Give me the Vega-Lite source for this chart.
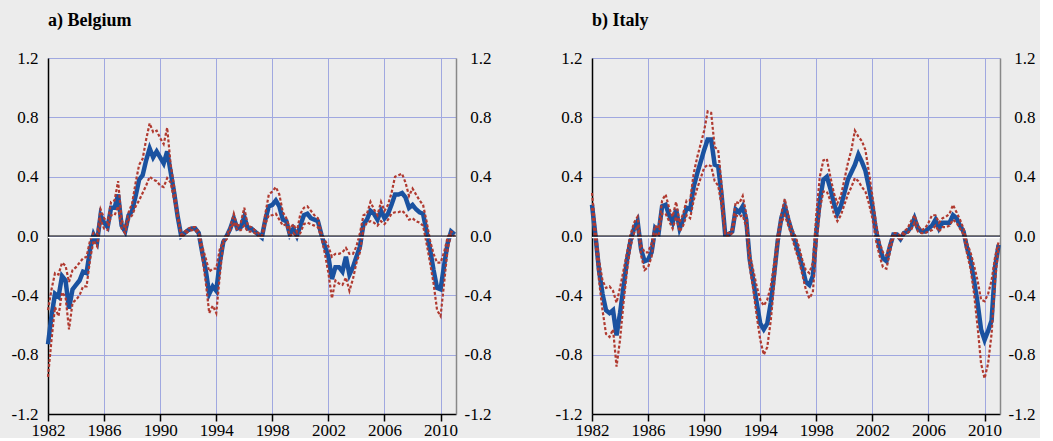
{
"$schema": "https://vega.github.io/schema/vega-lite/v6.json",
"background": "#ececec",
"padding": {"left": 0, "top": 12, "right": 0, "bottom": 0},
"spacing": 48,
"config": {
  "view": {"stroke": null},
  "font": "Times New Roman",
  "axis": {"labelFont": "Times New Roman", "labelFontSize": 17, "labelColor": "#000", "title": null, "labelFlush": false, "labelOverlap": false},
  "title": {"font": "Times New Roman"}
},
"datasets": {"d": [
{"c":"Belgium","t":1982.00,"m":-0.73,"u":-0.50,"l":-0.95},
{"c":"Belgium","t":1982.25,"m":-0.54,"u":-0.36,"l":-0.70},
{"c":"Belgium","t":1982.50,"m":-0.39,"u":-0.25,"l":-0.48},
{"c":"Belgium","t":1982.75,"m":-0.41,"u":-0.26,"l":-0.54},
{"c":"Belgium","t":1983.00,"m":-0.27,"u":-0.18,"l":-0.38},
{"c":"Belgium","t":1983.25,"m":-0.30,"u":-0.20,"l":-0.41},
{"c":"Belgium","t":1983.50,"m":-0.49,"u":-0.31,"l":-0.63},
{"c":"Belgium","t":1983.75,"m":-0.36,"u":-0.23,"l":-0.45},
{"c":"Belgium","t":1984.00,"m":-0.33,"u":-0.21,"l":-0.43},
{"c":"Belgium","t":1984.25,"m":-0.30,"u":-0.18,"l":-0.40},
{"c":"Belgium","t":1984.50,"m":-0.24,"u":-0.15,"l":-0.34},
{"c":"Belgium","t":1984.75,"m":-0.25,"u":-0.14,"l":-0.34},
{"c":"Belgium","t":1985.00,"m":-0.09,"u":-0.03,"l":-0.16},
{"c":"Belgium","t":1985.25,"m":0.01,"u":0.02,"l":-0.03},
{"c":"Belgium","t":1985.50,"m":-0.04,"u":0.01,"l":-0.07},
{"c":"Belgium","t":1985.75,"m":0.14,"u":0.18,"l":0.11},
{"c":"Belgium","t":1986.00,"m":0.09,"u":0.12,"l":0.05},
{"c":"Belgium","t":1986.25,"m":0.06,"u":0.09,"l":0.04},
{"c":"Belgium","t":1986.50,"m":0.19,"u":0.23,"l":0.14},
{"c":"Belgium","t":1986.75,"m":0.19,"u":0.24,"l":0.14},
{"c":"Belgium","t":1987.00,"m":0.28,"u":0.37,"l":0.20},
{"c":"Belgium","t":1987.25,"m":0.07,"u":0.11,"l":0.05},
{"c":"Belgium","t":1987.50,"m":0.03,"u":0.05,"l":0.02},
{"c":"Belgium","t":1987.75,"m":0.14,"u":0.16,"l":0.11},
{"c":"Belgium","t":1988.00,"m":0.17,"u":0.22,"l":0.14},
{"c":"Belgium","t":1988.25,"m":0.27,"u":0.36,"l":0.20},
{"c":"Belgium","t":1988.50,"m":0.38,"u":0.48,"l":0.24},
{"c":"Belgium","t":1988.75,"m":0.41,"u":0.52,"l":0.29},
{"c":"Belgium","t":1989.00,"m":0.51,"u":0.65,"l":0.34},
{"c":"Belgium","t":1989.25,"m":0.59,"u":0.76,"l":0.40},
{"c":"Belgium","t":1989.50,"m":0.53,"u":0.70,"l":0.38},
{"c":"Belgium","t":1989.75,"m":0.57,"u":0.71,"l":0.37},
{"c":"Belgium","t":1990.00,"m":0.53,"u":0.66,"l":0.34},
{"c":"Belgium","t":1990.25,"m":0.49,"u":0.62,"l":0.33},
{"c":"Belgium","t":1990.50,"m":0.57,"u":0.73,"l":0.39},
{"c":"Belgium","t":1990.75,"m":0.43,"u":0.48,"l":0.36},
{"c":"Belgium","t":1991.00,"m":0.29,"u":0.33,"l":0.24},
{"c":"Belgium","t":1991.25,"m":0.13,"u":0.15,"l":0.12},
{"c":"Belgium","t":1991.50,"m":0.00,"u":0.01,"l":-0.01},
{"c":"Belgium","t":1991.75,"m":0.02,"u":0.03,"l":0.01},
{"c":"Belgium","t":1992.00,"m":0.04,"u":0.05,"l":0.03},
{"c":"Belgium","t":1992.25,"m":0.05,"u":0.06,"l":0.04},
{"c":"Belgium","t":1992.50,"m":0.05,"u":0.06,"l":0.04},
{"c":"Belgium","t":1992.75,"m":0.02,"u":0.03,"l":0.01},
{"c":"Belgium","t":1993.00,"m":-0.11,"u":-0.07,"l":-0.14},
{"c":"Belgium","t":1993.25,"m":-0.23,"u":-0.15,"l":-0.31},
{"c":"Belgium","t":1993.50,"m":-0.39,"u":-0.24,"l":-0.52},
{"c":"Belgium","t":1993.75,"m":-0.34,"u":-0.22,"l":-0.47},
{"c":"Belgium","t":1994.00,"m":-0.37,"u":-0.22,"l":-0.52},
{"c":"Belgium","t":1994.25,"m":-0.18,"u":-0.09,"l":-0.27},
{"c":"Belgium","t":1994.50,"m":-0.04,"u":-0.03,"l":-0.05},
{"c":"Belgium","t":1994.75,"m":0.00,"u":0.01,"l":-0.02},
{"c":"Belgium","t":1995.00,"m":0.05,"u":0.06,"l":0.04},
{"c":"Belgium","t":1995.25,"m":0.12,"u":0.15,"l":0.09},
{"c":"Belgium","t":1995.50,"m":0.05,"u":0.06,"l":0.04},
{"c":"Belgium","t":1995.75,"m":0.06,"u":0.09,"l":0.04},
{"c":"Belgium","t":1996.00,"m":0.13,"u":0.19,"l":0.07},
{"c":"Belgium","t":1996.25,"m":0.05,"u":0.07,"l":0.03},
{"c":"Belgium","t":1996.50,"m":0.05,"u":0.06,"l":0.03},
{"c":"Belgium","t":1996.75,"m":0.03,"u":0.04,"l":0.02},
{"c":"Belgium","t":1997.00,"m":0.01,"u":0.02,"l":0.00},
{"c":"Belgium","t":1997.25,"m":-0.01,"u":0.00,"l":-0.01},
{"c":"Belgium","t":1997.50,"m":0.11,"u":0.15,"l":0.08},
{"c":"Belgium","t":1997.75,"m":0.20,"u":0.28,"l":0.14},
{"c":"Belgium","t":1998.00,"m":0.21,"u":0.30,"l":0.14},
{"c":"Belgium","t":1998.25,"m":0.24,"u":0.33,"l":0.15},
{"c":"Belgium","t":1998.50,"m":0.20,"u":0.28,"l":0.11},
{"c":"Belgium","t":1998.75,"m":0.11,"u":0.16,"l":0.07},
{"c":"Belgium","t":1999.00,"m":0.10,"u":0.12,"l":0.08},
{"c":"Belgium","t":1999.25,"m":0.01,"u":0.05,"l":0.00},
{"c":"Belgium","t":1999.50,"m":0.05,"u":0.08,"l":0.02},
{"c":"Belgium","t":1999.75,"m":0.00,"u":0.03,"l":-0.01},
{"c":"Belgium","t":2000.00,"m":0.07,"u":0.15,"l":0.02},
{"c":"Belgium","t":2000.25,"m":0.14,"u":0.19,"l":0.08},
{"c":"Belgium","t":2000.50,"m":0.15,"u":0.20,"l":0.09},
{"c":"Belgium","t":2000.75,"m":0.12,"u":0.17,"l":0.08},
{"c":"Belgium","t":2001.00,"m":0.11,"u":0.14,"l":0.07},
{"c":"Belgium","t":2001.25,"m":0.10,"u":0.12,"l":0.06},
{"c":"Belgium","t":2001.50,"m":0.01,"u":0.02,"l":-0.01},
{"c":"Belgium","t":2001.75,"m":-0.07,"u":-0.03,"l":-0.12},
{"c":"Belgium","t":2002.00,"m":-0.14,"u":-0.07,"l":-0.25},
{"c":"Belgium","t":2002.25,"m":-0.29,"u":-0.14,"l":-0.42},
{"c":"Belgium","t":2002.50,"m":-0.21,"u":-0.12,"l":-0.30},
{"c":"Belgium","t":2002.75,"m":-0.21,"u":-0.12,"l":-0.32},
{"c":"Belgium","t":2003.00,"m":-0.24,"u":-0.11,"l":-0.33},
{"c":"Belgium","t":2003.25,"m":-0.14,"u":-0.08,"l":-0.28},
{"c":"Belgium","t":2003.50,"m":-0.26,"u":-0.12,"l":-0.37},
{"c":"Belgium","t":2003.75,"m":-0.21,"u":-0.12,"l":-0.29},
{"c":"Belgium","t":2004.00,"m":-0.14,"u":-0.07,"l":-0.18},
{"c":"Belgium","t":2004.25,"m":-0.07,"u":0.02,"l":-0.11},
{"c":"Belgium","t":2004.50,"m":0.08,"u":0.14,"l":0.05},
{"c":"Belgium","t":2004.75,"m":0.11,"u":0.15,"l":0.09},
{"c":"Belgium","t":2005.00,"m":0.17,"u":0.23,"l":0.10},
{"c":"Belgium","t":2005.25,"m":0.15,"u":0.18,"l":0.09},
{"c":"Belgium","t":2005.50,"m":0.11,"u":0.14,"l":0.07},
{"c":"Belgium","t":2005.75,"m":0.17,"u":0.23,"l":0.10},
{"c":"Belgium","t":2006.00,"m":0.12,"u":0.17,"l":0.08},
{"c":"Belgium","t":2006.25,"m":0.15,"u":0.21,"l":0.11},
{"c":"Belgium","t":2006.50,"m":0.21,"u":0.29,"l":0.15},
{"c":"Belgium","t":2006.75,"m":0.28,"u":0.40,"l":0.16},
{"c":"Belgium","t":2007.00,"m":0.28,"u":0.41,"l":0.16},
{"c":"Belgium","t":2007.25,"m":0.29,"u":0.42,"l":0.17},
{"c":"Belgium","t":2007.50,"m":0.26,"u":0.36,"l":0.15},
{"c":"Belgium","t":2007.75,"m":0.19,"u":0.27,"l":0.11},
{"c":"Belgium","t":2008.00,"m":0.21,"u":0.32,"l":0.12},
{"c":"Belgium","t":2008.25,"m":0.18,"u":0.28,"l":0.10},
{"c":"Belgium","t":2008.50,"m":0.16,"u":0.24,"l":0.09},
{"c":"Belgium","t":2008.75,"m":0.15,"u":0.21,"l":0.07},
{"c":"Belgium","t":2009.00,"m":0.03,"u":0.10,"l":-0.05},
{"c":"Belgium","t":2009.25,"m":-0.09,"u":-0.03,"l":-0.18},
{"c":"Belgium","t":2009.50,"m":-0.23,"u":-0.12,"l":-0.32},
{"c":"Belgium","t":2009.75,"m":-0.35,"u":-0.18,"l":-0.50},
{"c":"Belgium","t":2010.00,"m":-0.36,"u":-0.18,"l":-0.54},
{"c":"Belgium","t":2010.25,"m":-0.20,"u":-0.11,"l":-0.32},
{"c":"Belgium","t":2010.50,"m":-0.05,"u":-0.01,"l":-0.09},
{"c":"Belgium","t":2010.75,"m":0.03,"u":0.03,"l":0.01},
{"c":"Belgium","t":2011.00,"m":0.01,"u":0.02,"l":0.00},
{"c":"Italy","t":1982.00,"m":0.21,"u":0.29,"l":0.19},
{"c":"Italy","t":1982.25,"m":0.00,"u":0.04,"l":-0.05},
{"c":"Italy","t":1982.50,"m":-0.23,"u":-0.16,"l":-0.30},
{"c":"Italy","t":1982.75,"m":-0.39,"u":-0.30,"l":-0.50},
{"c":"Italy","t":1983.00,"m":-0.50,"u":-0.35,"l":-0.66},
{"c":"Italy","t":1983.25,"m":-0.52,"u":-0.34,"l":-0.68},
{"c":"Italy","t":1983.50,"m":-0.50,"u":-0.37,"l":-0.63},
{"c":"Italy","t":1983.75,"m":-0.67,"u":-0.45,"l":-0.88},
{"c":"Italy","t":1984.00,"m":-0.52,"u":-0.35,"l":-0.70},
{"c":"Italy","t":1984.25,"m":-0.34,"u":-0.23,"l":-0.45},
{"c":"Italy","t":1984.50,"m":-0.16,"u":-0.11,"l":-0.23},
{"c":"Italy","t":1984.75,"m":-0.03,"u":0.01,"l":-0.07},
{"c":"Italy","t":1985.00,"m":0.05,"u":0.09,"l":0.02},
{"c":"Italy","t":1985.25,"m":0.10,"u":0.13,"l":0.07},
{"c":"Italy","t":1985.50,"m":-0.09,"u":-0.06,"l":-0.13},
{"c":"Italy","t":1985.75,"m":-0.17,"u":-0.11,"l":-0.23},
{"c":"Italy","t":1986.00,"m":-0.16,"u":-0.11,"l":-0.21},
{"c":"Italy","t":1986.25,"m":-0.11,"u":-0.05,"l":-0.14},
{"c":"Italy","t":1986.50,"m":0.05,"u":0.07,"l":0.02},
{"c":"Italy","t":1986.75,"m":0.02,"u":0.05,"l":0.00},
{"c":"Italy","t":1987.00,"m":0.20,"u":0.24,"l":0.15},
{"c":"Italy","t":1987.25,"m":0.21,"u":0.28,"l":0.15},
{"c":"Italy","t":1987.50,"m":0.14,"u":0.19,"l":0.10},
{"c":"Italy","t":1987.75,"m":0.09,"u":0.13,"l":0.05},
{"c":"Italy","t":1988.00,"m":0.18,"u":0.23,"l":0.13},
{"c":"Italy","t":1988.25,"m":0.05,"u":0.09,"l":0.03},
{"c":"Italy","t":1988.50,"m":0.11,"u":0.15,"l":0.07},
{"c":"Italy","t":1988.75,"m":0.19,"u":0.24,"l":0.14},
{"c":"Italy","t":1989.00,"m":0.18,"u":0.24,"l":0.12},
{"c":"Italy","t":1989.25,"m":0.33,"u":0.42,"l":0.24},
{"c":"Italy","t":1989.50,"m":0.42,"u":0.53,"l":0.32},
{"c":"Italy","t":1989.75,"m":0.50,"u":0.62,"l":0.39},
{"c":"Italy","t":1990.00,"m":0.58,"u":0.71,"l":0.46},
{"c":"Italy","t":1990.25,"m":0.65,"u":0.84,"l":0.48},
{"c":"Italy","t":1990.50,"m":0.65,"u":0.83,"l":0.47},
{"c":"Italy","t":1990.75,"m":0.48,"u":0.60,"l":0.37},
{"c":"Italy","t":1991.00,"m":0.47,"u":0.58,"l":0.34},
{"c":"Italy","t":1991.25,"m":0.27,"u":0.34,"l":0.20},
{"c":"Italy","t":1991.50,"m":0.01,"u":0.02,"l":0.00},
{"c":"Italy","t":1991.75,"m":0.01,"u":0.02,"l":0.00},
{"c":"Italy","t":1992.00,"m":0.03,"u":0.05,"l":0.02},
{"c":"Italy","t":1992.25,"m":0.18,"u":0.23,"l":0.14},
{"c":"Italy","t":1992.50,"m":0.16,"u":0.22,"l":0.13},
{"c":"Italy","t":1992.75,"m":0.20,"u":0.27,"l":0.14},
{"c":"Italy","t":1993.00,"m":0.11,"u":0.15,"l":0.06},
{"c":"Italy","t":1993.25,"m":-0.16,"u":-0.12,"l":-0.21},
{"c":"Italy","t":1993.50,"m":-0.30,"u":-0.23,"l":-0.36},
{"c":"Italy","t":1993.75,"m":-0.45,"u":-0.34,"l":-0.54},
{"c":"Italy","t":1994.00,"m":-0.59,"u":-0.43,"l":-0.70},
{"c":"Italy","t":1994.25,"m":-0.63,"u":-0.47,"l":-0.80},
{"c":"Italy","t":1994.50,"m":-0.59,"u":-0.43,"l":-0.75},
{"c":"Italy","t":1994.75,"m":-0.45,"u":-0.34,"l":-0.57},
{"c":"Italy","t":1995.00,"m":-0.25,"u":-0.18,"l":-0.32},
{"c":"Italy","t":1995.25,"m":-0.03,"u":0.01,"l":-0.06},
{"c":"Italy","t":1995.50,"m":0.12,"u":0.15,"l":0.09},
{"c":"Italy","t":1995.75,"m":0.20,"u":0.25,"l":0.14},
{"c":"Italy","t":1996.00,"m":0.11,"u":0.14,"l":0.07},
{"c":"Italy","t":1996.25,"m":0.03,"u":0.05,"l":0.00},
{"c":"Italy","t":1996.50,"m":-0.04,"u":0.00,"l":-0.09},
{"c":"Italy","t":1996.75,"m":-0.12,"u":-0.07,"l":-0.16},
{"c":"Italy","t":1997.00,"m":-0.21,"u":-0.16,"l":-0.26},
{"c":"Italy","t":1997.25,"m":-0.31,"u":-0.23,"l":-0.36},
{"c":"Italy","t":1997.50,"m":-0.33,"u":-0.25,"l":-0.42},
{"c":"Italy","t":1997.75,"m":-0.27,"u":-0.18,"l":-0.38},
{"c":"Italy","t":1998.00,"m":0.02,"u":0.15,"l":-0.07},
{"c":"Italy","t":1998.25,"m":0.24,"u":0.40,"l":0.18},
{"c":"Italy","t":1998.50,"m":0.38,"u":0.51,"l":0.30},
{"c":"Italy","t":1998.75,"m":0.40,"u":0.52,"l":0.30},
{"c":"Italy","t":1999.00,"m":0.32,"u":0.40,"l":0.24},
{"c":"Italy","t":1999.25,"m":0.22,"u":0.29,"l":0.15},
{"c":"Italy","t":1999.50,"m":0.15,"u":0.22,"l":0.10},
{"c":"Italy","t":1999.75,"m":0.20,"u":0.27,"l":0.14},
{"c":"Italy","t":2000.00,"m":0.29,"u":0.38,"l":0.21},
{"c":"Italy","t":2000.25,"m":0.38,"u":0.49,"l":0.28},
{"c":"Italy","t":2000.50,"m":0.43,"u":0.58,"l":0.33},
{"c":"Italy","t":2000.75,"m":0.48,"u":0.71,"l":0.39},
{"c":"Italy","t":2001.00,"m":0.55,"u":0.67,"l":0.37},
{"c":"Italy","t":2001.25,"m":0.50,"u":0.64,"l":0.33},
{"c":"Italy","t":2001.50,"m":0.44,"u":0.58,"l":0.30},
{"c":"Italy","t":2001.75,"m":0.33,"u":0.43,"l":0.22},
{"c":"Italy","t":2002.00,"m":0.20,"u":0.27,"l":0.12},
{"c":"Italy","t":2002.25,"m":0.04,"u":0.09,"l":-0.03},
{"c":"Italy","t":2002.50,"m":-0.07,"u":-0.04,"l":-0.13},
{"c":"Italy","t":2002.75,"m":-0.15,"u":-0.11,"l":-0.21},
{"c":"Italy","t":2003.00,"m":-0.17,"u":-0.13,"l":-0.22},
{"c":"Italy","t":2003.25,"m":-0.07,"u":-0.05,"l":-0.11},
{"c":"Italy","t":2003.50,"m":0.01,"u":0.02,"l":0.00},
{"c":"Italy","t":2003.75,"m":0.01,"u":0.02,"l":0.00},
{"c":"Italy","t":2004.00,"m":-0.02,"u":0.00,"l":-0.03},
{"c":"Italy","t":2004.25,"m":0.02,"u":0.03,"l":0.01},
{"c":"Italy","t":2004.50,"m":0.03,"u":0.05,"l":0.02},
{"c":"Italy","t":2004.75,"m":0.06,"u":0.10,"l":0.04},
{"c":"Italy","t":2005.00,"m":0.12,"u":0.14,"l":0.09},
{"c":"Italy","t":2005.25,"m":0.05,"u":0.07,"l":0.03},
{"c":"Italy","t":2005.50,"m":0.03,"u":0.04,"l":0.02},
{"c":"Italy","t":2005.75,"m":0.03,"u":0.05,"l":0.02},
{"c":"Italy","t":2006.00,"m":0.05,"u":0.09,"l":0.03},
{"c":"Italy","t":2006.25,"m":0.07,"u":0.14,"l":0.04},
{"c":"Italy","t":2006.50,"m":0.11,"u":0.14,"l":0.07},
{"c":"Italy","t":2006.75,"m":0.05,"u":0.09,"l":0.03},
{"c":"Italy","t":2007.00,"m":0.09,"u":0.12,"l":0.06},
{"c":"Italy","t":2007.25,"m":0.09,"u":0.13,"l":0.06},
{"c":"Italy","t":2007.50,"m":0.09,"u":0.15,"l":0.07},
{"c":"Italy","t":2007.75,"m":0.14,"u":0.21,"l":0.11},
{"c":"Italy","t":2008.00,"m":0.12,"u":0.16,"l":0.09},
{"c":"Italy","t":2008.25,"m":0.07,"u":0.11,"l":0.05},
{"c":"Italy","t":2008.50,"m":0.03,"u":0.05,"l":0.01},
{"c":"Italy","t":2008.75,"m":-0.08,"u":-0.05,"l":-0.12},
{"c":"Italy","t":2009.00,"m":-0.16,"u":-0.11,"l":-0.22},
{"c":"Italy","t":2009.25,"m":-0.30,"u":-0.20,"l":-0.39},
{"c":"Italy","t":2009.50,"m":-0.45,"u":-0.30,"l":-0.61},
{"c":"Italy","t":2009.75,"m":-0.63,"u":-0.43,"l":-0.86},
{"c":"Italy","t":2010.00,"m":-0.70,"u":-0.44,"l":-0.96},
{"c":"Italy","t":2010.25,"m":-0.64,"u":-0.39,"l":-0.86},
{"c":"Italy","t":2010.50,"m":-0.57,"u":-0.30,"l":-0.66},
{"c":"Italy","t":2010.75,"m":-0.21,"u":-0.14,"l":-0.30},
{"c":"Italy","t":2011.00,"m":-0.06,"u":-0.04,"l":-0.07}
]},
"hconcat": [
{
  "title": {"text": "a) Belgium", "anchor": "start", "frame": "group", "fontSize": 18, "fontWeight": "bold", "font": "Times New Roman", "color": "#000", "offset": 19},
  "width": 408, "height": 356,
  "data": {"name": "d"},
  "transform": [{"filter": "datum.c == 'Belgium'"}],
  "layer": [
    {"mark": {"type": "line", "color": "#1a52a0", "strokeWidth": 4.5},
     "encoding": {
       "x": {"field": "t", "type": "quantitative", "scale": {"domain": [1982, 2011.1], "nice": false, "zero": false},
             "axis": {"values": [1982,1984,1986,1988,1990,1992,1994,1996,1998,2000,2002,2004,2006,2008,2010], "format": "d", "labelExpr": "datum.value % 4 == 2 ? datum.label : ''", "grid": true, "gridColor": "#a0a8e0", "gridWidth": 1, "tickSize": 7, "tickColor": "#000", "tickWidth": 1.5, "domainColor": "#000", "domainWidth": 1.5, "labelPadding": 1}},
       "y": {"field": "m", "type": "quantitative", "scale": {"domain": [-1.2, 1.2], "nice": false, "zero": false},
             "axis": {"orient": "left", "values": [-1.2,-0.8,-0.4,0,0.4,0.8,1.2], "format": ".1f", "labelExpr": "replace(datum.label, '\u2212', '-')", "grid": true, "gridColor": "#a0a8e0", "gridWidth": 1, "ticks": false, "labelPadding": 10, "domainColor": "#000", "domainWidth": 1.5, "minExtent": 48, "maxExtent": 48}}
     }},
    {"mark": {"type": "line", "color": "#b03a30", "strokeWidth": 2.2, "strokeDash": [3, 2]},
     "encoding": {
       "x": {"field": "t", "type": "quantitative"},
       "y": {"field": "u", "type": "quantitative",
             "axis": {"orient": "right", "values": [-1.2,-0.8,-0.4,0,0.4,0.8,1.2], "format": ".1f", "labelExpr": "replace(datum.label, '\u2212', '-')", "grid": false, "ticks": false, "labelAlign": "right", "labelPadding": 35, "domainColor": "#888", "domainWidth": 1.5, "minExtent": 40, "maxExtent": 40}}
     }},
    {"mark": {"type": "line", "color": "#b03a30", "strokeWidth": 2.2, "strokeDash": [3, 2]},
     "encoding": {
       "x": {"field": "t", "type": "quantitative"},
       "y": {"field": "l", "type": "quantitative", "axis": null}
     }},
    {"data": {"values": [{"z": 0}]},
     "mark": {"type": "rule", "color": "#ffffff", "strokeWidth": 1.5, "yOffset": 1.5},
     "encoding": {"y": {"field": "z", "type": "quantitative", "axis": null}}},
    {"data": {"values": [{"z": 0}]},
     "mark": {"type": "rule", "color": "#000", "strokeWidth": 1},
     "encoding": {"y": {"field": "z", "type": "quantitative", "axis": null}}}
  ],
  "resolve": {"axis": {"y": "independent"}}
},
{
  "title": {"text": "b) Italy", "anchor": "start", "frame": "group", "fontSize": 18, "fontWeight": "bold", "font": "Times New Roman", "color": "#000", "offset": 19},
  "width": 408, "height": 356,
  "data": {"name": "d"},
  "transform": [{"filter": "datum.c == 'Italy'"}],
  "layer": [
    {"mark": {"type": "line", "color": "#1a52a0", "strokeWidth": 4.5},
     "encoding": {
       "x": {"field": "t", "type": "quantitative", "scale": {"domain": [1982, 2011.1], "nice": false, "zero": false},
             "axis": {"values": [1982,1984,1986,1988,1990,1992,1994,1996,1998,2000,2002,2004,2006,2008,2010], "format": "d", "labelExpr": "datum.value % 4 == 2 ? datum.label : ''", "grid": true, "gridColor": "#a0a8e0", "gridWidth": 1, "tickSize": 7, "tickColor": "#000", "tickWidth": 1.5, "domainColor": "#000", "domainWidth": 1.5, "labelPadding": 1}},
       "y": {"field": "m", "type": "quantitative", "scale": {"domain": [-1.2, 1.2], "nice": false, "zero": false},
             "axis": {"orient": "left", "values": [-1.2,-0.8,-0.4,0,0.4,0.8,1.2], "format": ".1f", "labelExpr": "replace(datum.label, '\u2212', '-')", "grid": true, "gridColor": "#a0a8e0", "gridWidth": 1, "ticks": false, "labelPadding": 10, "domainColor": "#000", "domainWidth": 1.5, "minExtent": 48, "maxExtent": 48}}
     }},
    {"mark": {"type": "line", "color": "#b03a30", "strokeWidth": 2.2, "strokeDash": [3, 2]},
     "encoding": {
       "x": {"field": "t", "type": "quantitative"},
       "y": {"field": "u", "type": "quantitative",
             "axis": {"orient": "right", "values": [-1.2,-0.8,-0.4,0,0.4,0.8,1.2], "format": ".1f", "labelExpr": "replace(datum.label, '\u2212', '-')", "grid": false, "ticks": false, "labelAlign": "right", "labelPadding": 35, "domainColor": "#888", "domainWidth": 1.5, "minExtent": 40, "maxExtent": 40}}
     }},
    {"mark": {"type": "line", "color": "#b03a30", "strokeWidth": 2.2, "strokeDash": [3, 2]},
     "encoding": {
       "x": {"field": "t", "type": "quantitative"},
       "y": {"field": "l", "type": "quantitative", "axis": null}
     }},
    {"data": {"values": [{"z": 0}]},
     "mark": {"type": "rule", "color": "#ffffff", "strokeWidth": 1.5, "yOffset": 1.5},
     "encoding": {"y": {"field": "z", "type": "quantitative", "axis": null}}},
    {"data": {"values": [{"z": 0}]},
     "mark": {"type": "rule", "color": "#000", "strokeWidth": 1},
     "encoding": {"y": {"field": "z", "type": "quantitative", "axis": null}}}
  ],
  "resolve": {"axis": {"y": "independent"}}
}
]
}
